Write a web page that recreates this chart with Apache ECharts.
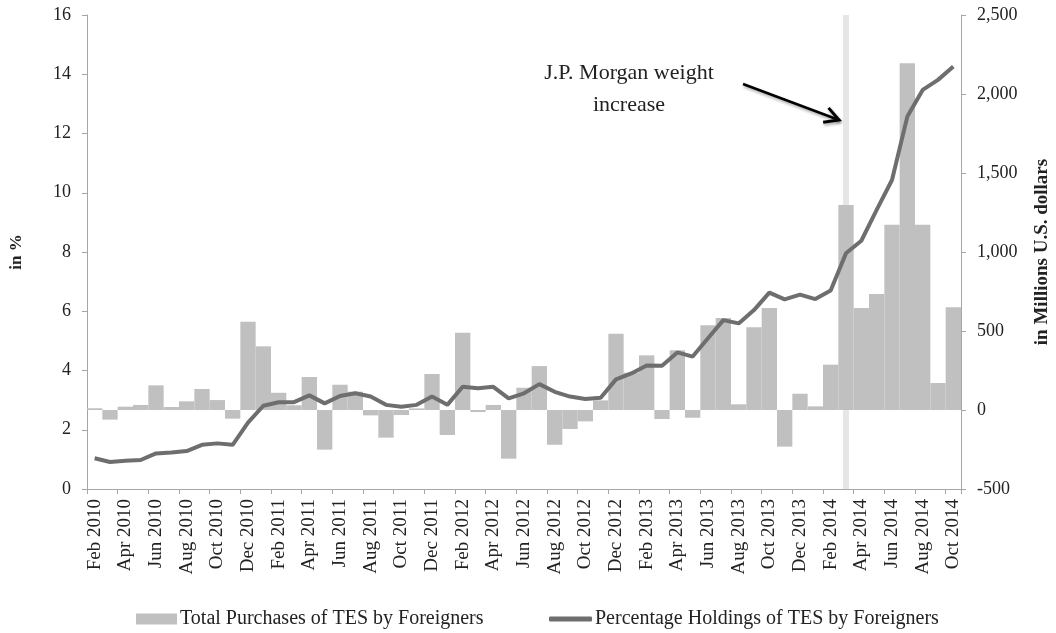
<!DOCTYPE html>
<html>
<head>
<meta charset="utf-8">
<script src="https://cdn.jsdelivr.net/npm/echarts@6/dist/echarts.min.js"></script>
<style>html,body{margin:0;padding:0;background:#fff}#c{width:1056px;height:633px}</style>
</head>
<body>
<div id="c"></div>
<script>
var categories = ['Feb 2010','Mar 2010','Apr 2010','May 2010','Jun 2010','Jul 2010','Aug 2010','Sep 2010','Oct 2010','Nov 2010','Dec 2010',
  'Jan 2011','Feb 2011','Mar 2011','Apr 2011','May 2011','Jun 2011','Jul 2011','Aug 2011','Sep 2011','Oct 2011','Nov 2011','Dec 2011',
  'Jan 2012','Feb 2012','Mar 2012','Apr 2012','May 2012','Jun 2012','Jul 2012','Aug 2012','Sep 2012','Oct 2012','Nov 2012','Dec 2012',
  'Jan 2013','Feb 2013','Mar 2013','Apr 2013','May 2013','Jun 2013','Jul 2013','Aug 2013','Sep 2013','Oct 2013','Nov 2013','Dec 2013',
  'Jan 2014','Feb 2014','Mar 2014','Apr 2014','May 2014','Jun 2014','Jul 2014','Aug 2014','Sep 2014','Oct 2014'];

// Total Purchases of TES by Foreigners (millions USD, right axis)
var purchases = [11,-61,21,32,156,19,55,133,63,-55,559,
  403,109,30,209,-251,160,116,-34,-175,-32,10,228,
  -158,489,-13,32,-308,141,278,-220,-120,-72,61,483,
  236,346,-57,378,-49,536,582,36,523,645,-232,103,
  23,287,1297,645,734,1173,2194,1173,171,650];

// Percentage Holdings of TES by Foreigners (%, left axis)
var holdings = [1.04,0.91,0.95,0.98,1.20,1.23,1.28,1.49,1.54,1.49,2.24,
  2.81,2.93,2.93,3.16,2.89,3.14,3.23,3.12,2.84,2.78,2.84,3.12,
  2.84,3.45,3.40,3.45,3.06,3.23,3.54,3.28,3.12,3.04,3.08,3.70,
  3.90,4.17,4.16,4.61,4.47,5.09,5.70,5.59,6.04,6.63,6.40,6.56,
  6.41,6.70,7.96,8.38,9.42,10.43,12.57,13.47,13.81,14.26];

var leftTicks = {min:0, max:16, interval:2};
var rightTicks = {min:-500, max:2500, interval:500};
var eventMonth = 'Mar 2014';
var annotationText = 'J.P. Morgan weight\nincrease';
var seriesNames = ['Total Purchases of TES by Foreigners','Percentage Holdings of TES by Foreigners'];

var FONT = 'Liberation Serif';
var axisColor = '#a6a6a6';
var textColor = '#222';

var chart = echarts.init(document.getElementById('c'), null, {renderer:'canvas'});

// arrow geometry (annotation)
var ax0 = 743, ay0 = 84, ax1 = 839, ay1 = 120;
var ang = Math.atan2(ay1-ay0, ax1-ax0);
var hl = 16, ha = 0.5;
var h1 = [ax1 - hl*Math.cos(ang-ha), ay1 - hl*Math.sin(ang-ha)];
var h2 = [ax1 - hl*Math.cos(ang+ha), ay1 - hl*Math.sin(ang+ha)];

chart.setOption({
  animation:false,
  backgroundColor:'#fff',
  textStyle:{fontFamily:FONT},
  grid:{left:87, right:95, top:15, bottom:144, containLabel:false, outerBoundsMode:'none'},
  legend:[
    {data:[seriesNames[0]], left:136, top:609, padding:0, itemWidth:41, itemHeight:11, icon:'rect', itemGap:0,
     textStyle:{fontFamily:FONT, fontSize:20, color:textColor, padding:[0,0,0,-2]}},
    {data:[seriesNames[1]], left:549, top:609, padding:0, itemWidth:43, itemHeight:5, icon:'roundRect', itemGap:0,
     textStyle:{fontFamily:FONT, fontSize:20, color:textColor, padding:[0,0,0,-2]}}
  ],
  xAxis:{
    type:'category', data:categories, boundaryGap:true,
    axisLine:{onZero:false, lineStyle:{color:axisColor, width:1}},
    axisTick:{show:true, interval:1, length:5, lineStyle:{color:axisColor}},
    axisLabel:{interval:1, rotate:90, margin:10, fontFamily:FONT, fontSize:19, color:textColor},
    splitLine:{show:false}
  },
  yAxis:[
    {type:'value', min:leftTicks.min, max:leftTicks.max, interval:leftTicks.interval, position:'left',
     name:'in %', nameLocation:'middle', nameGap:62, nameRotate:90,
     nameTextStyle:{fontFamily:FONT, fontSize:17, fontWeight:'bold', color:textColor},
     axisLine:{show:true, lineStyle:{color:axisColor}},
     axisTick:{show:true, length:5, lineStyle:{color:axisColor}},
     axisLabel:{fontFamily:FONT, fontSize:18, color:textColor, margin:16},
     splitLine:{show:false}},
    {type:'value', min:rightTicks.min, max:rightTicks.max, interval:rightTicks.interval, position:'right',
     name:'in Millions U.S. dollars', nameLocation:'middle', nameGap:72, nameRotate:90,
     nameTextStyle:{fontFamily:FONT, fontSize:19, fontWeight:'bold', color:textColor},
     axisLine:{show:true, lineStyle:{color:axisColor}},
     axisTick:{show:true, length:5, lineStyle:{color:axisColor}},
     axisLabel:{fontFamily:FONT, fontSize:18, color:textColor, margin:16,
       formatter:function(v){return v.toLocaleString('en-US');}},
     splitLine:{show:false}}
  ],
  series:[
    {name:'band', type:'line', yAxisIndex:0, data:[], zlevel:0, z:1, silent:true,
     markLine:{silent:true, symbol:['none','none'], label:{show:false},
       lineStyle:{color:'#e6e6e6', width:6, type:'solid'},
       data:[{xAxis:eventMonth}]}},
    {name:seriesNames[0], type:'bar', yAxisIndex:1, data:purchases, zlevel:1, z:2,
     barCategoryGap:'0%', itemStyle:{color:'#c0c0c0'}},
    {name:seriesNames[1], type:'line', yAxisIndex:0, data:holdings, zlevel:1, z:3,
     symbol:'none', smooth:false, lineStyle:{color:'#6e6e6e', width:4}, itemStyle:{color:'#6e6e6e'}}
  ],
  graphic:[
    {type:'text', x:629, y:89, style:{text:annotationText, font:'22px "Liberation Serif"', fill:'#222',
      textAlign:'center', textVerticalAlign:'middle', lineHeight:32}},
    {type:'line', shape:{x1:ax0, y1:ay0, x2:ax1, y2:ay1},
     style:{stroke:'#000', lineWidth:2.5, shadowBlur:3, shadowColor:'rgba(0,0,0,0.35)', shadowOffsetX:1, shadowOffsetY:2}},
    {type:'polyline', shape:{points:[h1,[ax1,ay1],h2]},
     style:{stroke:'#000', fill:null, lineWidth:3, lineJoin:'miter', shadowBlur:3, shadowColor:'rgba(0,0,0,0.35)', shadowOffsetX:1, shadowOffsetY:2}}
  ]
});
</script>
</body>
</html>
